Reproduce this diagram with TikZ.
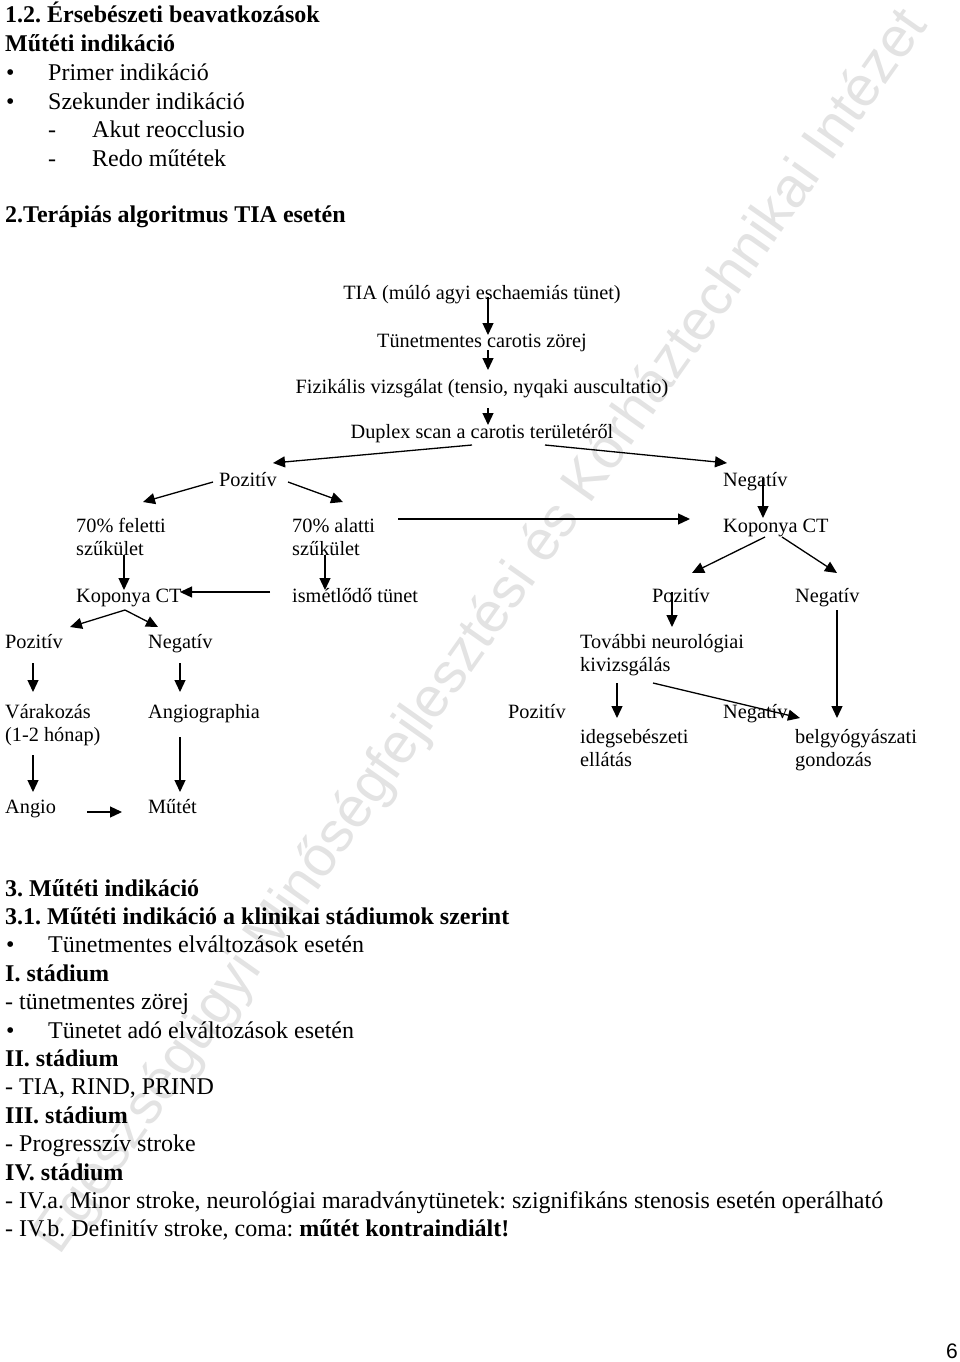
\documentclass[tikz,border=0pt]{standalone}
\usepackage{fontspec}
\setmainfont{Liberation Serif}
\newfontfamily\wmfont{Liberation Sans}
\usetikzlibrary{arrows.meta}
\frenchspacing
\newcommand{\dgsize}{\fontsize{20.3}{23.5}\selectfont}
\newcommand{\txsize}{\fontsize{24}{28}\selectfont}
\newcommand{\twolines}[2]{\begin{tabular}[t]{@{}l@{}}#1\\#2\end{tabular}}
\tikzset{
  lbl/.style={inner sep=0pt, anchor=base west, font=\dgsize},
  lblmid/.style={inner sep=0pt, anchor=base, font=\dgsize},
  txt/.style={inner sep=0pt, anchor=base west, font=\txsize},
  head/.style={txt, font=\txsize\bfseries},
  arr/.style={line width=1.3pt, -{Triangle[length=12pt,width=11pt]}},
  wmark/.style={inner sep=0pt, anchor=base, rotate=54.8, text=black!11,
    font=\wmfont\fontsize{56.5}{60}\selectfont}
}

\begin{document}
\begin{tikzpicture}[x=1pt,y=-1pt]

  \path[use as bounding box] (0,0) rectangle (960,1362);

  % watermark
  \node[wmark] (wm) at (494,641)
    {Egészségügyi Minőségfejlesztési és Kórháztechnikai Intézet};

  % header<<<
  \node[head] (h1) at (5,23) {1.2. Érsebészeti beavatkozások};
  \node[head] (h2) at (5,52) {Műtéti indikáció};
  \node[txt] (b1) at (6,81) {\textbullet};
  \node[txt] (i1) at (48,81) {Primer indikáció};
  \node[txt] (b2) at (6,110) {\textbullet};
  \node[txt] (i2) at (48,110) {Szekunder indikáció};
  \node[txt] (d1) at (48,138) {-};
  \node[txt] (i3) at (92,138) {Akut reocclusio};
  \node[txt] (d2) at (48,166) {-};
  \node[txt] (i4) at (92,166) {Redo műtétek};
  \node[head] (h3) at (5,222) {2.Terápiás algoritmus TIA esetén};
  % >>>

  % algorithm<<<
  \node[lblmid] (tia) at (482,299) {TIA (múló agyi eschaemiás tünet)};
  \node[lblmid] (tunet) at (482,347) {Tünetmentes carotis zörej};
  \node[lblmid] (fizik) at (482,393)
    {Fizikális vizsgálat (tensio, nyqaki auscultatio)};
  \node[lblmid] (duplex) at (482,438) {Duplex scan a carotis területéről};

  \node[lbl] (pos1) at (219,486) {Pozitív};
  \node[lbl] (neg1) at (723,486) {Negatív};

  \node[lbl] (felett) at (76,532) {\twolines{70\% feletti}{szűkület}};
  \node[lbl] (alatt) at (292,532) {\twolines{70\% alatti}{szűkület}};
  \node[lbl] (kop2) at (723,532) {Koponya CT};

  \node[lbl] (kop1) at (76,602) {Koponya CT};
  \node[lbl] (ism) at (292,602) {ismétlődő tünet};
  \node[lbl] (pos3) at (652,602) {Pozitív};
  \node[lbl] (neg3) at (795,602) {Negatív};

  \node[lbl] (pos2) at (5,648) {Pozitív};
  \node[lbl] (neg2) at (148,648) {Negatív};
  \node[lbl] (tov) at (580,648) {\twolines{További neurológiai}{kivizsgálás}};

  \node[lbl] (var) at (5,718) {\twolines{Várakozás}{(1-2 hónap)}};
  \node[lbl] (angiogr) at (148,718) {Angiographia};
  \node[lbl] (pos4) at (508,718) {Pozitív};
  \node[lbl] (neg4) at (723,718) {Negatív};
  \node[lbl] (ideg) at (580,743) {\twolines{idegsebészeti}{ellátás}};
  \node[lbl] (belgy) at (795,743) {\twolines{belgyógyászati}{gondozás}};

  \node[lbl] (angio) at (5,813) {Angio};
  \node[lbl] (mutet) at (148,813) {Műtét};

  % trunk
  \draw[arr] ([xshift=6,yshift=2]tia.base) -- ([xshift=6,yshift=12]tunet.base);
  \draw[arr] ([xshift=6,yshift=-3]tunet.base) -- ([xshift=6,yshift=23]fizik.base);
  \draw[arr] ([xshift=6,yshift=-15]fizik.base) -- ([xshift=6,yshift=13]duplex.base);
  \draw[arr] ([xshift=-10,yshift=-7]duplex.base) -- ([xshift=54,yshift=23]pos1.base west);
  \draw[arr] ([xshift=63,yshift=-7]duplex.base) -- ([xshift=4,yshift=23]neg1.base west);

  % positive side
  \draw[arr] ([xshift=-6,yshift=4]pos1.base west) -- ([xshift=67,yshift=30]felett.base west);
  \draw[arr] ([xshift=69,yshift=4]pos1.base west) -- ([xshift=51,yshift=30]alatt.base west);
  \draw[arr] ([xshift=106,yshift=13]alatt.base west) -- ([xshift=-33,yshift=13]kop2.base west);
  \draw[arr] ([xshift=48,yshift=-23]felett.base west) -- ([xshift=48,yshift=12]kop1.base west);
  \draw[arr] ([xshift=33,yshift=-23]alatt.base west) -- ([xshift=33,yshift=12]ism.base west);
  \draw[arr] ([xshift=-22,yshift=10]ism.base west) -- ([xshift=104,yshift=10]kop1.base west);

  \coordinate (k1split) at ([xshift=49,yshift=-8]kop1.base west);
  \draw[arr] (k1split) -- ([xshift=65,yshift=21]pos2.base west);
  \draw[arr] (k1split) -- ([xshift=10,yshift=21]neg2.base west);
  \draw[arr] ([xshift=28,yshift=-15]pos2.base west) -- ([xshift=28,yshift=26]var.base west);
  \draw[arr] ([xshift=32,yshift=-15]neg2.base west) -- ([xshift=32,yshift=26]angiogr.base west);
  \draw[arr] ([xshift=28,yshift=-37]var.base west) -- ([xshift=28,yshift=21]angio.base west);
  \draw[arr] ([xshift=32,yshift=-19]angiogr.base west) -- ([xshift=32,yshift=21]mutet.base west);
  \draw[arr] ([xshift=82,yshift=1]angio.base west) -- ([xshift=-26,yshift=1]mutet.base west);

  % negative side
  \draw[arr] ([xshift=40,yshift=8]neg1.base west) -- ([xshift=40,yshift=14]kop2.base west);
  \draw[arr] ([xshift=42,yshift=-5]kop2.base west) -- ([xshift=40,yshift=29]pos3.base west);
  \draw[arr] ([xshift=59,yshift=-5]kop2.base west) -- ([xshift=42,yshift=29]neg3.base west);
  \draw[arr] ([xshift=20,yshift=10]pos3.base west) -- ([xshift=92,yshift=21]tov.base west);
  \draw[arr] ([xshift=42,yshift=-8]neg3.base west) -- ([xshift=42,yshift=25]belgy.base west);
  \draw[arr] ([xshift=37,yshift=-35]tov.base west) -- ([xshift=37,yshift=25]ideg.base west);
  \draw[arr] ([xshift=73,yshift=-35]tov.base west) -- ([xshift=5,yshift=25]belgy.base west);
  % >>>

  % indications<<<
  \node[head] (s3) at (5,896) {3. Műtéti indikáció};
  \node[head] (s31) at (5,924.4) {3.1. Műtéti indikáció a klinikai stádiumok szerint};
  \node[txt] (b3) at (6,952.8) {\textbullet};
  \node[txt] (t1) at (48,952.8) {Tünetmentes elváltozások esetén};
  \node[head] (st1) at (5,981.2) {I. stádium};
  \node[txt] (t2) at (5,1009.6) {- tünetmentes zörej};
  \node[txt] (b4) at (6,1038) {\textbullet};
  \node[txt] (t3) at (48,1038) {Tünetet adó elváltozások esetén};
  \node[head] (st2) at (5,1066.4) {II. stádium};
  \node[txt] (t4) at (5,1094.8) {- TIA, RIND, PRIND};
  \node[head] (st3) at (5,1123.2) {III. stádium};
  \node[txt] (t5) at (5,1151.6) {- Progresszív stroke};
  \node[head] (st4) at (5,1180) {IV. stádium};
  \node[txt] (t6) at (5,1208.4)
    {- IV.a. Minor stroke, neurológiai maradványtünetek: szignifikáns stenosis esetén operálható};
  \node[txt] (t7) at (5,1236.8)
    {- IV.b. Definitív stroke, coma: \textbf{műtét kontraindiált!}};
  % >>>

  \node[inner sep=0pt, anchor=base east, font=\wmfont\fontsize{21}{24}\selectfont]
    (pg) at (958,1358) {6};

\end{tikzpicture}
\end{document}
